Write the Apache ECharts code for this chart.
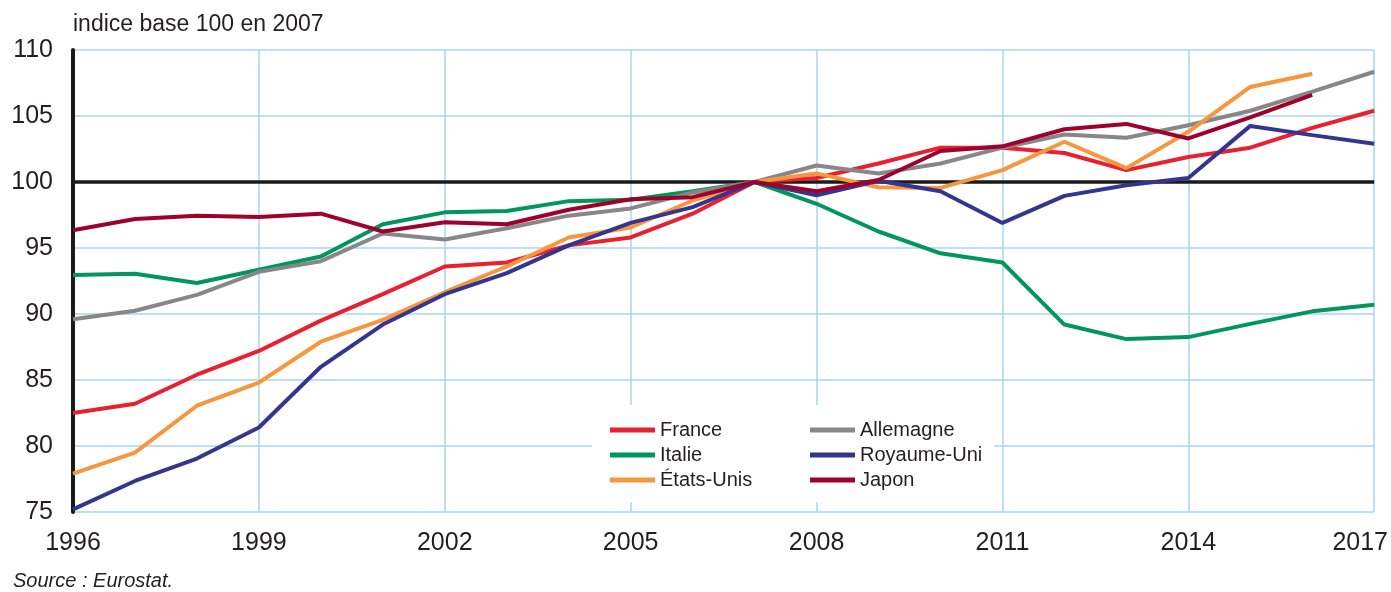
<!DOCTYPE html>
<html>
<head>
<meta charset="utf-8">
<script src="https://cdn.jsdelivr.net/npm/echarts@6/dist/echarts.min.js"></script>
<style>
html,body{margin:0;padding:0;background:#fff;}
#chart{width:1391px;height:592px;}
</style>
</head>
<body>
<div id="chart"></div>
<script>
const years = ['1996','1997','1998','1999','2000','2001','2002','2003','2004','2005','2006','2007','2008','2009','2010','2011','2012','2013','2014','2015','2016','2017'];
const france = [82.5,83.2,85.4,87.2,89.5,91.5,93.6,93.9,95.2,95.8,97.6,100,100.3,101.4,102.6,102.6,102.2,100.9,101.9,102.6,104.1,105.4];
const italie = [92.95,93.05,92.35,93.35,94.35,96.8,97.7,97.8,98.55,98.65,99.3,100,98.35,96.25,94.6,93.9,89.2,88.1,88.25,89.25,90.2,90.7];
const etatsUnis = [77.9,79.5,83.05,84.8,87.9,89.55,91.65,93.6,95.8,96.55,98.6,100,100.65,99.6,99.55,100.9,103.05,101.05,103.8,107.2,108.2,null];
const allemagne = [89.6,90.25,91.45,93.2,94.0,96.1,95.65,96.5,97.45,98.0,99.2,100,101.25,100.65,101.4,102.6,103.6,103.35,104.3,105.4,106.85,108.35];
const royaumeUni = [75.2,77.35,79.05,81.4,86.0,89.2,91.5,93.1,95.2,96.9,98.1,100,99.0,100.1,99.3,96.9,98.95,99.75,100.3,104.25,103.55,102.9];
const japon = [96.35,97.2,97.45,97.35,97.6,96.25,96.95,96.8,97.9,98.7,98.85,100,99.3,100.15,102.35,102.7,104.0,104.4,103.3,104.9,106.6,null];
const baseLine = 100;
const legendLeft = ['France','Italie','États-Unis'];
const legendRight = ['Allemagne','Royaume-Uni','Japon'];

const FONT = "'Liberation Sans','Arial',sans-serif";
const TXT = '#231f20';

function mk(name, data, color) {
  return {
    name: name, type: 'line', data: data, symbol: 'none', connectNulls: false,
    lineStyle: { color: color, width: 4 }, itemStyle: { color: color }
  };
}

const series = [
  mk('France', france, '#e8202f'),
  mk('Italie', italie, '#00965e'),
  mk('Allemagne', allemagne, '#878787'),
  mk('États-Unis', etatsUnis, '#f7963c'),
  mk('Royaume-Uni', royaumeUni, '#34358f'),
  mk('Japon', japon, '#a0002c')
];
series[0].markLine = {
  silent: true, symbol: 'none', label: { show: false },
  lineStyle: { color: '#1a1a1a', width: 3.5, type: 'solid' },
  data: [{ yAxis: baseLine }], z: 1
};

const legendCommon = {
  orient: 'vertical', backgroundColor: '#fff', itemGap: 5,
  itemWidth: 45, itemHeight: 5, icon: 'rect', top: 405
};

const chart = echarts.init(document.getElementById('chart'));
chart.setOption({
  animation: false,
  backgroundColor: '#fff',
  grid: { left: 73, right: 15, top: 50, bottom: 80 },
  title: [
    { text: 'indice base 100 en 2007', left: 68, top: 8,
      textStyle: { fontFamily: FONT, fontSize: 23, fontWeight: 'normal', color: TXT } },
    { text: 'Source : Eurostat.', left: 8, top: 566,
      textStyle: { fontFamily: FONT, fontSize: 20, fontStyle: 'italic', fontWeight: 'normal', color: TXT } }
  ],
  legend: [
    Object.assign({}, legendCommon, {
      left: 592, padding: [15, 50, 12, 18], data: legendLeft,
      textStyle: { fontFamily: FONT, fontSize: 20, color: TXT }
    }),
    Object.assign({}, legendCommon, {
      left: 800, padding: [15, 12, 12, 10], data: legendRight,
      textStyle: { fontFamily: FONT, fontSize: 20, color: TXT }
    })
  ],
  xAxis: {
    type: 'category', data: years, boundaryGap: false,
    axisLine: { show: false }, axisTick: { show: false },
    axisLabel: {
      interval: 2, margin: 19, fontFamily: FONT, fontSize: 25, color: TXT,
      formatter: function (v) { return v === '2017' ? '{r|' + v + '}' : v; },
      rich: { r: { fontFamily: FONT, fontSize: 25, color: TXT, padding: [0, 28, 0, 0] } }
    },
    splitLine: { show: true, interval: 2, lineStyle: { color: '#aad6f0', width: 1.5 } }
  },
  yAxis: {
    type: 'value', min: 75, max: 110, interval: 5,
    axisLine: { show: true, lineStyle: { color: '#1a1a1a', width: 4 } },
    axisTick: { show: false },
    axisLabel: { margin: 20, fontFamily: FONT, fontSize: 25, color: TXT },
    splitLine: { show: true, lineStyle: { color: '#aad6f0', width: 1.5 } }
  },
  series: series
});
</script>
</body>
</html>
